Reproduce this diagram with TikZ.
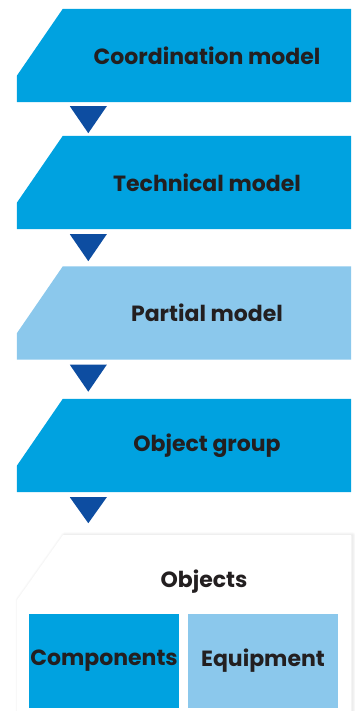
\documentclass[tikz,border=0pt]{standalone}
\usepackage{fontspec}
\setmainfont{Poppins}
\usetikzlibrary{calc, backgrounds}
\definecolor{layerblue}{RGB}{0, 162, 224}
\definecolor{paleblue}{RGB}{139, 200, 236}
\definecolor{stepblue}{RGB}{13, 77, 161}
\definecolor{labeldark}{RGB}{35, 31, 32}

\begin{document}
\begin{tikzpicture}[x=1pt, y=-1pt,
    layer/.style={minimum width=288pt, minimum height=93pt, inner sep=0pt,
      font=\fontsize{22}{26}\selectfont\bfseries, text=labeldark},
    part/.style={minimum width=150pt, minimum height=94pt, inner sep=0pt,
      font=\fontsize{22}{26}\selectfont\bfseries, text=labeldark}]
  \useasboundingbox (0, 0) rectangle (355, 711);

  % Model layers
  \node[layer] (coord) at (207, 55.5) {Coordination model};
  \node[layer] (tech) at (207, 182.5) {Technical model};
  \node[layer] (partial) at (207, 313) {Partial model};
  \node[layer] (group) at (207, 445.5) {Object group};

  \begin{scope}[on background layer]
    % Chamfered layer bands
    \fill[layerblue] (coord.north west) -- (coord.north east) -- (coord.south east)
      -- ($(coord.south west)+(-46, 0)$) -- ($(coord.north west)+(-46, 67)$) -- cycle;
    \fill[layerblue] (tech.north west) -- (tech.north east) -- (tech.south east)
      -- ($(tech.south west)+(-46, 0)$) -- ($(tech.north west)+(-46, 67)$) -- cycle;
    \fill[paleblue] (partial.north west) -- (partial.north east) -- (partial.south east)
      -- ($(partial.south west)+(-46, 0)$) -- ($(partial.north west)+(-46, 67)$) -- cycle;
    \fill[layerblue] (group.north west) -- (group.north east) -- (group.south east)
      -- ($(group.south west)+(-46, 0)$) -- ($(group.north west)+(-46, 67)$) -- cycle;

    % Objects panel with a soft shadow
    \foreach \w in {1, 2, 3, 4, 5, 6}
      \draw[line width=\w pt, black, opacity=0.012, line join=round, xshift=1.5pt]
        (63, 535) -- (351, 535) -- (351, 715) -- (17, 715) -- (17, 600) -- cycle;
    \fill[white] (63, 535) -- (351, 535) -- (351, 715) -- (17, 715) -- (17, 600) -- cycle;
  \end{scope}

  % Step markers
  \fill[stepblue] ($(coord.south west)+(7, 4)$) -- ($(coord.south west)+(44, 4)$)
    -- ($(coord.south west)+(25.5, 31)$) -- cycle;
  \fill[stepblue] ($(tech.south west)+(7, 5)$) -- ($(tech.south west)+(44, 5)$)
    -- ($(tech.south west)+(25.5, 32)$) -- cycle;
  \fill[stepblue] ($(partial.south west)+(7, 5)$) -- ($(partial.south west)+(44, 5)$)
    -- ($(partial.south west)+(25.5, 32)$) -- cycle;
  \fill[stepblue] ($(group.south west)+(7, 5)$) -- ($(group.south west)+(44, 5)$)
    -- ($(group.south west)+(25.5, 31)$) -- cycle;

  % Objects
  \node[font=\fontsize{22}{26}\selectfont\bfseries, text=labeldark] (objs) at (204, 582) {Objects};
  \node[part, fill=layerblue] (comp) at (104, 661) {Components};
  \node[part, fill=paleblue] (equip) at (263, 661) {Equipment};
\end{tikzpicture}
\end{document}
